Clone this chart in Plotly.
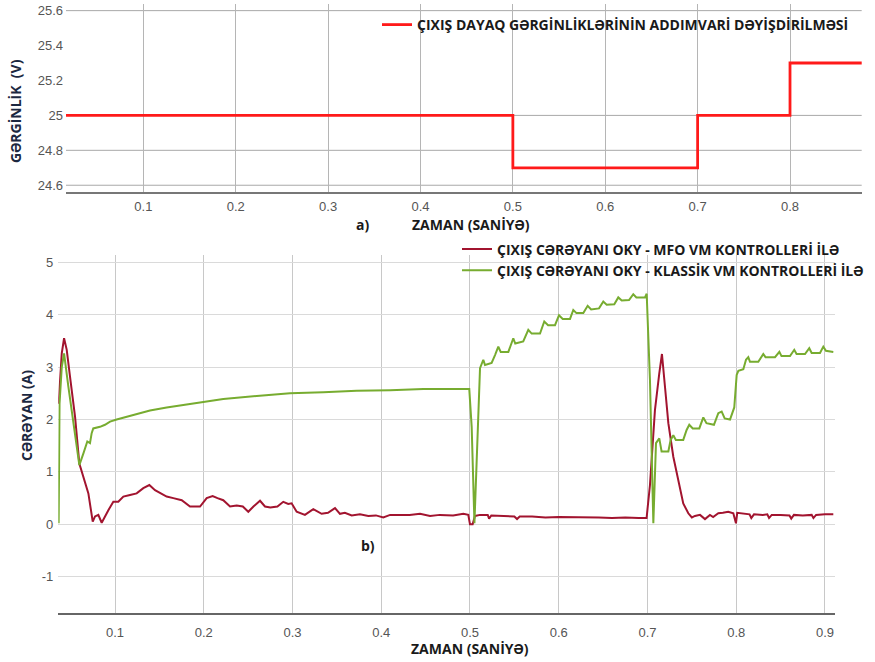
import plotly.graph_objects as go

# ---------------- data ----------------
# (a) reference voltage steps
t_ref = [0.0, 0.5, 0.7, 0.8, 0.9]
v_ref = [25.0, 24.7, 25.0, 25.3, 25.3]

# (b) output current, MFO-tuned controller
t_mfo = [0.0365, 0.0400, 0.0426, 0.0456, 0.0493, 0.0550, 0.0598, 0.0643, 0.0700, 0.0749,
         0.0775, 0.0812, 0.0850, 0.0925, 0.0981, 0.1037, 0.1094, 0.1169, 0.1244, 0.1319,
         0.1387, 0.1451, 0.1526, 0.1582, 0.1657, 0.1752, 0.1845, 0.1958, 0.2033, 0.2100,
         0.2155, 0.2220, 0.2296, 0.2371, 0.2440, 0.2502, 0.2560, 0.2634, 0.2690, 0.2750,
         0.2830, 0.2896, 0.2952, 0.2990, 0.3047, 0.3140, 0.3234, 0.3328, 0.3400, 0.3479,
         0.3535, 0.3590, 0.3667, 0.3760, 0.3854, 0.3940, 0.4023, 0.4100, 0.4211, 0.4320,
         0.4437, 0.4550, 0.4660, 0.4810, 0.4925, 0.4981, 0.5000, 0.5030, 0.5056, 0.5113,
         0.5200, 0.5215, 0.5240, 0.5400, 0.5500, 0.5530, 0.5560, 0.5700, 0.5850, 0.6000,
         0.6150, 0.6300, 0.6450, 0.6600, 0.6750, 0.6900, 0.6990, 0.7028, 0.7084, 0.7133,
         0.7163, 0.7197, 0.7235, 0.7291, 0.7347, 0.7403, 0.7460, 0.7500, 0.7535, 0.7592,
         0.7648, 0.7704, 0.7740, 0.7798, 0.7850, 0.7910, 0.7967, 0.7997, 0.8011, 0.8100,
         0.8150, 0.8170, 0.8200, 0.8300, 0.8350, 0.8370, 0.8400, 0.8500, 0.8600, 0.8620,
         0.8650, 0.8750, 0.8850, 0.8870, 0.8900, 0.9000, 0.9094]
i_mfo = [2.30, 3.26, 3.55, 3.33, 2.82, 2.05, 1.16, 0.91, 0.59, 0.05,
         0.15, 0.18, 0.03, 0.27, 0.43, 0.43, 0.53, 0.56, 0.59, 0.69,
         0.75, 0.65, 0.59, 0.53, 0.50, 0.46, 0.34, 0.34, 0.50, 0.54,
         0.50, 0.46, 0.34, 0.36, 0.34, 0.24, 0.34, 0.45, 0.34, 0.32,
         0.34, 0.43, 0.39, 0.40, 0.24, 0.18, 0.29, 0.20, 0.22, 0.31,
         0.20, 0.22, 0.17, 0.19, 0.16, 0.17, 0.13, 0.18, 0.18, 0.18,
         0.20, 0.16, 0.18, 0.17, 0.20, 0.18, 0.00, 0.00, 0.16, 0.18,
         0.18, 0.11, 0.17, 0.16, 0.15, 0.10, 0.15, 0.15, 0.13, 0.14,
         0.14, 0.13, 0.13, 0.12, 0.13, 0.12, 0.12, 0.75, 2.18, 2.88,
         3.25, 2.63, 1.93, 1.29, 0.81, 0.40, 0.21, 0.13, 0.16, 0.18,
         0.10, 0.18, 0.14, 0.21, 0.22, 0.24, 0.21, 0.02, 0.22, 0.20,
         0.19, 0.12, 0.19, 0.18, 0.19, 0.12, 0.18, 0.18, 0.17, 0.11,
         0.18, 0.17, 0.18, 0.12, 0.18, 0.19, 0.19]

# (b) output current, classic controller
t_klassik = [0.0365, 0.0368, 0.0375, 0.0400, 0.0426, 0.0474, 0.0530, 0.0598, 0.0643, 0.0688,
             0.0718, 0.0737, 0.0755, 0.0831, 0.0887, 0.0944, 0.1019, 0.1206, 0.1394, 0.1582,
             0.1770, 0.1958, 0.2220, 0.2597, 0.2972, 0.3347, 0.3723, 0.4099, 0.4474, 0.4850,
             0.4992, 0.5019, 0.5050, 0.5113, 0.5150, 0.5169, 0.5244, 0.5282, 0.5319, 0.5346,
             0.5432, 0.5488, 0.5510, 0.5600, 0.5657, 0.5695, 0.5789, 0.5837, 0.5880, 0.5958,
             0.6003, 0.6045, 0.6127, 0.6164, 0.6200, 0.6277, 0.6326, 0.6365, 0.6454, 0.6502,
             0.6540, 0.6626, 0.6671, 0.6710, 0.6792, 0.6840, 0.6875, 0.6972, 0.6991, 0.7028,
             0.7066, 0.7096, 0.7133, 0.7159, 0.7235, 0.7261, 0.7291, 0.7320, 0.7403, 0.7441,
             0.7471, 0.7510, 0.7584, 0.7629, 0.7665, 0.7749, 0.7798, 0.7836, 0.7870, 0.7930,
             0.7978, 0.8005, 0.8024, 0.8080, 0.8110, 0.8136, 0.8155, 0.8249, 0.8305, 0.8330,
             0.8437, 0.8486, 0.8510, 0.8606, 0.8654, 0.8680, 0.8775, 0.8823, 0.8850, 0.8944,
             0.8981, 0.9011, 0.9094]
i_klassik = [0.02, 1.40, 2.30, 3.00, 3.26, 2.63, 1.93, 1.13, 1.35, 1.58,
             1.55, 1.74, 1.83, 1.86, 1.90, 1.96, 2.00, 2.09, 2.17, 2.23,
             2.28, 2.33, 2.39, 2.45, 2.50, 2.52, 2.55, 2.56, 2.58, 2.58,
             2.58, 1.86, 0.02, 2.98, 3.14, 3.04, 3.08, 3.23, 3.39, 3.29,
             3.29, 3.55, 3.45, 3.49, 3.71, 3.64, 3.64, 3.87, 3.80, 3.80,
             3.99, 3.92, 3.92, 4.09, 4.03, 4.03, 4.17, 4.10, 4.12, 4.25,
             4.19, 4.20, 4.33, 4.27, 4.28, 4.39, 4.33, 4.33, 4.40, 2.75,
             0.02, 1.55, 1.64, 1.39, 1.39, 1.61, 1.70, 1.61, 1.61, 1.80,
             1.90, 1.83, 1.83, 2.04, 1.93, 1.90, 2.12, 2.15, 2.02, 2.00,
             2.23, 2.85, 2.93, 2.96, 3.14, 3.19, 3.10, 3.10, 3.25, 3.19,
             3.19, 3.29, 3.21, 3.21, 3.33, 3.25, 3.25, 3.36, 3.27, 3.27,
             3.39, 3.31, 3.29]

x_ticks_a = [0.1, 0.2, 0.3, 0.4, 0.5, 0.6, 0.7, 0.8]
x_labels_a = ["0.1", "0.2", "0.3", "0.4", "0.5", "0.6", "0.7", "0.8"]
y_ticks_a = [24.6, 24.8, 25.0, 25.2, 25.4, 25.6]
y_labels_a = ["24.6", "24.8", "25", "25.2", "25.4", "25.6"]
y_grid_a = [24.6, 24.8, 25.0, 25.6]
x_ticks_b = [0.1, 0.2, 0.3, 0.4, 0.5, 0.6, 0.7, 0.8, 0.9]
x_labels_b = ["0.1", "0.2", "0.3", "0.4", "0.5", "0.6", "0.7", "0.8", "0.9"]
y_ticks_b = [-1, 0, 1, 2, 3, 4, 5]
y_labels_b = ["-1", "0", "1", "2", "3", "4", "5"]

name_ref = "ÇIXIŞ DAYAQ GƏRGİNLİKLƏRİNİN ADDIMVARİ DƏYİŞDİRİLMƏSİ"
name_mfo = "ÇIXIŞ CƏRƏYANI OKY - MFO VM KONTROLLERİ İLƏ"
name_klassik = "ÇIXIŞ CƏRƏYANI OKY - KLASSİK VM KONTROLLERİ İLƏ"

# ---------------- figure ----------------
W, H = 875, 662
TXT = "Open Sans, sans-serif"
TICK = dict(family="Liberation Sans, Arial, sans-serif", size=13, color="#555555")

def px(x):
    return x / W

def py(y):
    return 1 - y / H

fig = go.Figure()
fig.add_trace(go.Scatter(x=t_ref, y=v_ref, mode="lines", line=dict(color="#ff1a1a", width=2.8, shape="hv"),
                         name=name_ref, xaxis="x", yaxis="y", legend="legend"))
fig.add_trace(go.Scatter(x=t_mfo, y=i_mfo, mode="lines", line=dict(color="#A2142F", width=2),
                         name=name_mfo, xaxis="x2", yaxis="y2", legend="legend2"))
fig.add_trace(go.Scatter(x=t_klassik, y=i_klassik, mode="lines", line=dict(color="#77AC30", width=2),
                         name=name_klassik, xaxis="x2", yaxis="y2", legend="legend2"))

shapes = []
for g in y_grid_a:
    shapes.append(dict(type="line", xref="x domain", yref="y", x0=0, x1=1, y0=g, y1=g,
                       line=dict(color="#a8a8a8", width=1), layer="below"))

fig.update_layout(
    width=W, height=H, template="none",
    margin=dict(l=0, r=0, t=0, b=0),
    paper_bgcolor="white", plot_bgcolor="white",
    showlegend=True,
    xaxis=dict(domain=[px(66), px(861.7)], range=[0.0163, 0.8776], anchor="y",
               tickmode="array", tickvals=x_ticks_a, ticktext=x_labels_a, tickfont=TICK,
               showgrid=True, gridcolor="#b5b5b5", gridwidth=1, zeroline=False,
               showline=True, linecolor="#777777", linewidth=1.5, ticks="", ticklabelstandoff=2,
               automargin=False),
    yaxis=dict(domain=[py(191.7), py(4)], range=[24.563, 25.638], anchor="x",
               tickmode="array", tickvals=y_ticks_a, ticktext=y_labels_a, tickfont=TICK,
               showgrid=False, zeroline=False, showline=False, ticks="", ticklabelstandoff=2,
               ticklabeloverflow="allow", automargin=False),
    xaxis2=dict(domain=[px(58.3), px(835)], range=[0.0361, 0.9113], anchor="y2",
                tickmode="array", tickvals=x_ticks_b, ticktext=x_labels_b, tickfont=TICK,
                showgrid=True, gridcolor="#c8c8c8", gridwidth=1, zeroline=False,
                showline=True, linecolor="#666666", linewidth=2, ticks="", ticklabelstandoff=6,
                automargin=False),
    yaxis2=dict(domain=[py(613.3), py(255)], range=[-1.698, 5.139], anchor="x2",
                tickmode="array", tickvals=y_ticks_b, ticktext=y_labels_b, tickfont=TICK,
                showgrid=True, gridcolor="#dadada", gridwidth=1, zeroline=False,
                showline=False, ticks="", ticklabelstandoff=4,
                automargin=False),
    legend=dict(x=px(377), y=py(25), xanchor="left", yanchor="middle", bgcolor="rgba(0,0,0,0)",
                font=dict(family=TXT, size=14, color="#1a1a1a", weight="bold"), itemwidth=30),
    legend2=dict(x=px(457), y=py(260), xanchor="left", yanchor="middle", bgcolor="rgba(0,0,0,0)",
                 font=dict(family=TXT, size=14, color="#1a1a1a", weight="bold"), itemwidth=30,
                 tracegroupgap=0),
    shapes=shapes,
)

ann_font = dict(family=TXT, size=14, color="#1a1a1a", weight="bold")
ytitle_font = dict(family=TXT, size=14, color="#1c2840", weight="bold")
fig.add_annotation(text="ZAMAN (SANİYƏ)", x=px(471), y=py(224), xref="paper", yref="paper",
                   showarrow=False, font=ann_font, xanchor="center", yanchor="middle")
fig.add_annotation(text="a)", x=px(362), y=py(224), xref="paper", yref="paper",
                   showarrow=False, font=ann_font, xanchor="center", yanchor="middle")
fig.add_annotation(text="ZAMAN (SANİYƏ)", x=px(470), y=py(648), xref="paper", yref="paper",
                   showarrow=False, font=ann_font, xanchor="center", yanchor="middle")
fig.add_annotation(text="b)", x=px(368), y=py(545), xref="paper", yref="paper",
                   showarrow=False, font=ann_font, xanchor="center", yanchor="middle")
fig.add_annotation(text="GƏRGİNLİK  (V)", x=px(15), y=py(111), xref="paper", yref="paper",
                   showarrow=False, font=ytitle_font, textangle=-90, xanchor="center", yanchor="middle")
fig.add_annotation(text="CƏRƏYAN (A)", x=px(26), y=py(416), xref="paper", yref="paper",
                   showarrow=False, font=ytitle_font, textangle=-90, xanchor="center", yanchor="middle")

fig.write_html("out.html", config={"displayModeBar": False},
               post_script="document.body.style.margin='0px';")
